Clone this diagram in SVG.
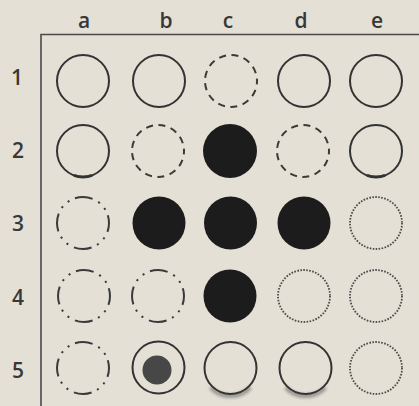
<svg xmlns="http://www.w3.org/2000/svg" width="419" height="406" viewBox="0 0 419 406">
  <defs>
    <filter id="blur" x="-50%" y="-50%" width="200%" height="200%"><feGaussianBlur stdDeviation="1.8"/></filter>
  </defs>
  <style>
    .lbl { font-family: "Open Sans", "Liberation Sans", Arial, sans-serif; font-size: 21px; font-weight: 600; fill: #383838; text-anchor: middle; }
    .frame { stroke: #4a4a4a; stroke-width: 1.6; fill: none; }
    .solid { fill: none; stroke: #333; stroke-width: 2; }
    .dashed { fill: none; stroke: #3a3a3a; stroke-width: 2; stroke-dasharray: 7 5.57; stroke-dashoffset: 3.5; }
    .dashdot { fill: none; stroke: #3a3a3a; stroke-width: 2; stroke-dasharray: 18 6.4 2 6.4 2 6.04; stroke-dashoffset: 9; }
    .dotted { fill: none; stroke: #4a4a4a; stroke-width: 1.8; stroke-dasharray: 1.6 1.425; }
    .filled { fill: #1c1c1c; stroke: none; }
    .inner { fill: #474747; }
    .heavy { fill: none; stroke: #333; stroke-width: 3; }
    .shadow { fill: none; stroke: #222; stroke-width: 4; opacity: 0.4; filter: url(#blur); }
  </style>
  <rect width="419" height="406" fill="#e4e0d6"/>

  <g id="frame">
    <path class="frame" d="M41 406 V34.5 H419"/>
  </g>

  <g id="labels">
    <text class="lbl" x="84" y="28">a</text>
    <text class="lbl" x="166" y="28">b</text>
    <text class="lbl" x="228" y="28">c</text>
    <text class="lbl" x="301" y="28">d</text>
    <text class="lbl" x="377" y="28">e</text>
    <text class="lbl" x="17" y="85">1</text>
    <text class="lbl" x="18" y="158">2</text>
    <text class="lbl" x="18" y="231">3</text>
    <text class="lbl" x="18" y="305">4</text>
    <text class="lbl" x="18" y="378">5</text>
  </g>

  <g id="row1">
    <g id="a1"><circle class="solid" cx="83" cy="81" r="26"/></g>
    <g id="b1"><circle class="solid" cx="159" cy="81" r="26"/></g>
    <g id="c1"><circle class="dashed" cx="231" cy="81" r="26"/></g>
    <g id="d1"><circle class="solid" cx="304" cy="81" r="26"/></g>
    <g id="e1"><circle class="solid" cx="376" cy="81" r="26"/></g>
  </g>

  <g id="row2">
    <g id="a2"><circle class="solid" cx="83" cy="151" r="26"/><path class="heavy" d="M74 175.4 A26 26 0 0 0 92 175.4"/></g>
    <g id="b2"><circle class="dashed" cx="158" cy="151" r="26"/></g>
    <g id="c2"><circle class="filled" cx="230" cy="151" r="27"/></g>
    <g id="d2"><circle class="dashed" cx="303" cy="151" r="26"/></g>
    <g id="e2"><circle class="solid" cx="376" cy="151" r="26"/><path class="heavy" d="M367 175.4 A26 26 0 0 0 385 175.4"/></g>
  </g>

  <g id="row3">
    <g id="a3"><circle class="dashdot" cx="83" cy="223" r="26"/></g>
    <g id="b3"><circle class="filled" cx="159" cy="223" r="26.5"/></g>
    <g id="c3"><circle class="filled" cx="230.5" cy="223" r="26.5"/></g>
    <g id="d3"><circle class="filled" cx="304" cy="223" r="26.5"/></g>
    <g id="e3"><circle class="dotted" cx="376" cy="223" r="26"/></g>
  </g>

  <g id="row4">
    <g id="a4"><circle class="dashdot" cx="84" cy="296" r="26"/></g>
    <g id="b4"><circle class="dashdot" cx="158" cy="296" r="26"/></g>
    <g id="c4"><circle class="filled" cx="230" cy="296" r="26.5"/></g>
    <g id="d4"><circle class="dotted" cx="304" cy="296" r="26"/></g>
    <g id="e4"><circle class="dotted" cx="376" cy="296" r="26"/></g>
  </g>

  <g id="row5">
    <g id="a5"><circle class="dashdot" cx="83" cy="368" r="26"/></g>
    <g id="b5"><circle class="solid" cx="158.5" cy="367.5" r="26"/><circle class="inner" cx="157" cy="370" r="14.5"/></g>
    <g id="c5"><path class="shadow" d="M210.5 387.6 A28 28 0 0 0 250.5 387.6"/><circle class="solid" cx="230.5" cy="368" r="26"/></g>
    <g id="d5"><path class="shadow" d="M285.5 387.6 A28 28 0 0 0 325.5 387.6"/><circle class="solid" cx="305.5" cy="368" r="26"/></g>
    <g id="e5"><circle class="dotted" cx="376" cy="368" r="26"/></g>
  </g>
</svg>
